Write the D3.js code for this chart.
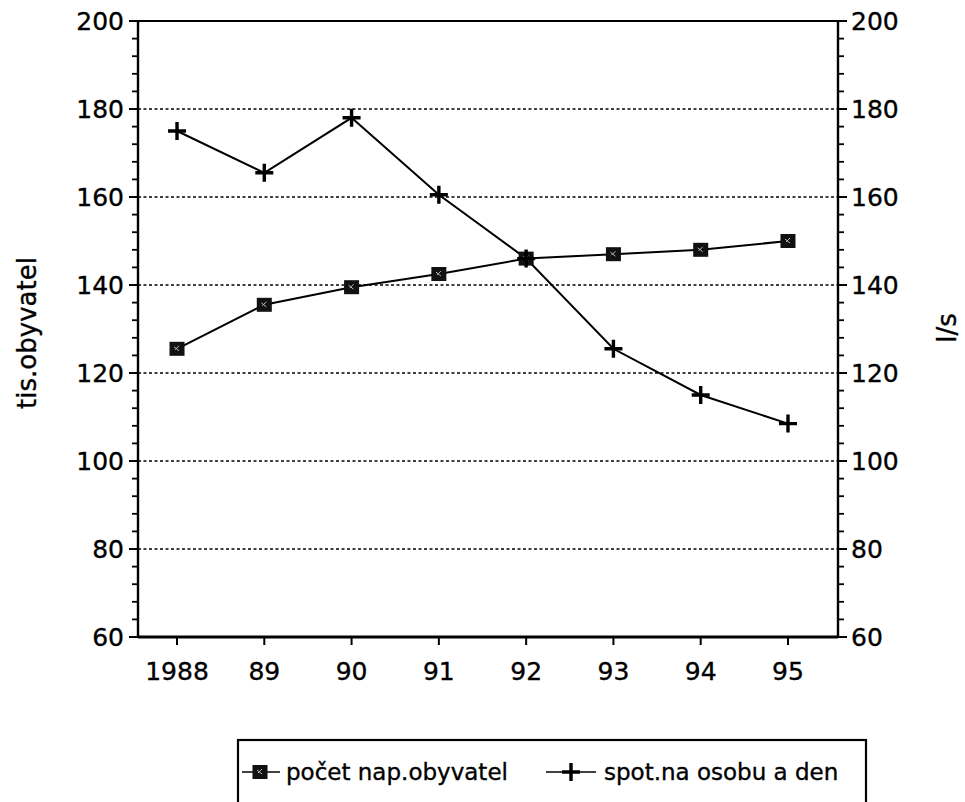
<!DOCTYPE html>
<html><head><meta charset="utf-8">
<script src="https://cdn.jsdelivr.net/npm/d3@7"></script>
<style>
html,body{margin:0;padding:0;background:#fff;}
svg{display:block;font-family:"DejaVu Sans",sans-serif;}
svg text{stroke:#000;stroke-width:0.35px;}
</style></head>
<body>
<svg id="c" width="965" height="802"></svg>
<script>
const years = [1988, 1989, 1990, 1991, 1992, 1993, 1994, 1995];
const yearLabels = ["1988", "89", "90", "91", "92", "93", "94", "95"];
const populace = [125.5, 135.5, 139.5, 142.5, 146, 147, 148, 150];   // počet nap.obyvatel (tis.)
const spotreba = [175, 165.5, 178, 160.5, 146, 125.5, 115, 108.5];   // spot.na osobu a den (l/s)
const yTicks = [60, 80, 100, 120, 140, 160, 180, 200];
const gridTicks = [80, 100, 120, 140, 160, 180];
const seriesNames = ["počet nap.obyvatel", "spot.na osobu a den"];
const leftTitle = "tis.obyvatel";
const rightTitle = "l/s";

const svg = d3.select("#c");
const L = 138, R = 838, T = 21, B = 637;
const x = d3.scaleLinear().domain([1987.553, 1995.573]).range([L, R]);
const y = d3.scaleLinear().domain([60, 200]).range([B, T]);
const font = 25;

// gridlines
svg.append("g").selectAll("line").data(gridTicks).join("line")
  .attr("x1", L).attr("x2", R).attr("y1", d => y(d)).attr("y2", d => y(d))
  .attr("stroke", "#000").attr("stroke-width", 1.7).attr("stroke-dasharray", "3,2.5");

// top border
svg.append("line").attr("x1", L).attr("x2", R).attr("y1", y(200)).attr("y2", y(200))
  .attr("stroke", "#000").attr("stroke-width", 2.2);

// left axis
const minor = d3.range(60, 201, 4);
const gL = svg.append("g").attr("transform", `translate(${L},0)`);
gL.append("line").attr("y1", T).attr("y2", B).attr("stroke", "#000").attr("stroke-width", 2.4);
gL.selectAll(".mn").data(minor).join("line").attr("class","mn")
  .attr("x1", -6).attr("x2", 0).attr("y1", d => y(d)).attr("y2", d => y(d))
  .attr("stroke", "#000").attr("stroke-width", 1.8);
gL.selectAll(".mj").data(yTicks).join("line").attr("class","mj")
  .attr("x1", -9).attr("x2", 0).attr("y1", d => y(d)).attr("y2", d => y(d))
  .attr("stroke", "#000").attr("stroke-width", 2);
gL.selectAll("text").data(yTicks).join("text")
  .attr("x", -14).attr("y", d => y(d)).attr("dy", "0.36em").attr("text-anchor", "end")
  .attr("font-size", font).text(d => d);

// right axis
const gR = svg.append("g").attr("transform", `translate(${R},0)`);
gR.append("line").attr("y1", T).attr("y2", B).attr("stroke", "#000").attr("stroke-width", 2.4);
gR.selectAll(".mn").data(minor).join("line").attr("class","mn")
  .attr("x1", 0).attr("x2", 6).attr("y1", d => y(d)).attr("y2", d => y(d))
  .attr("stroke", "#000").attr("stroke-width", 1.8);
gR.selectAll(".mj").data(yTicks).join("line").attr("class","mj")
  .attr("x1", 0).attr("x2", 9).attr("y1", d => y(d)).attr("y2", d => y(d))
  .attr("stroke", "#000").attr("stroke-width", 2);
gR.selectAll("text").data(yTicks).join("text")
  .attr("x", 13).attr("y", d => y(d)).attr("dy", "0.36em").attr("text-anchor", "start")
  .attr("font-size", font).text(d => d);

// bottom axis
const gB = svg.append("g").attr("transform", `translate(0,${B})`);
gB.append("line").attr("x1", L).attr("x2", R).attr("stroke", "#000").attr("stroke-width", 2.8);
gB.selectAll("line.t").data(years).join("line").attr("class","t")
  .attr("x1", d => x(d)).attr("x2", d => x(d)).attr("y1", 0).attr("y2", 8)
  .attr("stroke", "#000").attr("stroke-width", 2);
gB.selectAll("text").data(years).join("text")
  .attr("x", d => x(d)).attr("y", 43).attr("text-anchor", "middle")
  .attr("font-size", font).text((d, i) => yearLabels[i]);

// axis titles
svg.append("text").attr("transform", `translate(36,333) rotate(-90)`)
  .attr("text-anchor", "middle").attr("font-size", 26).text(leftTitle);
svg.append("text").attr("transform", `translate(956,328) rotate(-90)`)
  .attr("text-anchor", "middle").attr("font-size", 26).text(rightTitle);

// lines
const line = d3.line().x((d, i) => x(years[i])).y(d => y(d));
svg.append("path").datum(populace).attr("d", line).attr("fill", "none")
  .attr("stroke", "#000").attr("stroke-width", 2);
svg.append("path").datum(spotreba).attr("d", line).attr("fill", "none")
  .attr("stroke", "#000").attr("stroke-width", 2);

function square(g, cx, cy) {
  g.append("rect").attr("x", cx - 7.5).attr("y", cy - 7).attr("width", 15).attr("height", 14).attr("fill", "#111");
  g.append("path").attr("d", `M${cx-3},${cy-2}L${cx+2},${cy+2}M${cx+2},${cy-3}L${cx-2},${cy+1}`)
    .attr("stroke", "#bbb").attr("stroke-width", 1);
}
function plus(g, cx, cy) {
  g.append("path").attr("d", `M${cx-9},${cy}H${cx+9}M${cx},${cy-9}V${cy+9}`)
    .attr("stroke", "#000").attr("stroke-width", 3.4);
}
const gm = svg.append("g");
populace.forEach((v, i) => square(gm, x(years[i]), y(v)));
spotreba.forEach((v, i) => plus(gm, x(years[i]), y(v)));

// legend
const lg = svg.append("g");
lg.append("rect").attr("x", 238).attr("y", 740).attr("width", 628).attr("height", 80)
  .attr("fill", "none").attr("stroke", "#000").attr("stroke-width", 2.2);
lg.append("line").attr("x1", 242).attr("x2", 280).attr("y1", 772).attr("y2", 772).attr("stroke", "#000").attr("stroke-width", 1.6);
square(lg, 260, 772);
lg.append("text").attr("x", 286).attr("y", 772).attr("dy", "0.36em").attr("font-size", 23).text(seriesNames[0]);
lg.append("line").attr("x1", 546).attr("x2", 596).attr("y1", 772).attr("y2", 772).attr("stroke", "#000").attr("stroke-width", 1.6);
plus(lg, 571, 772);
lg.append("text").attr("x", 604).attr("y", 772).attr("dy", "0.36em").attr("font-size", 23).text(seriesNames[1]);
</script>
</body></html>
